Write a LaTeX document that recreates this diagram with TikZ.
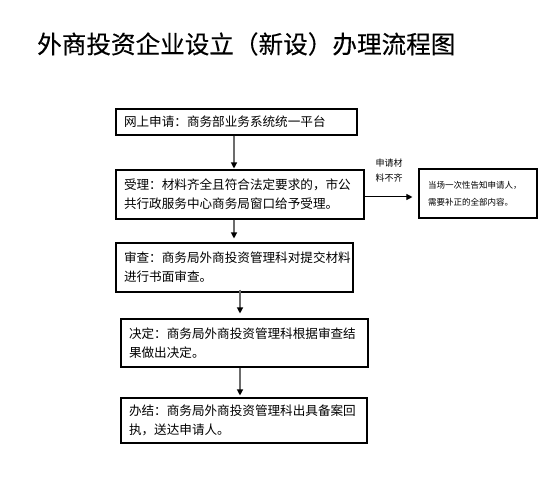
\documentclass[tikz,border=0pt]{standalone}
\usepackage{fontspec}
\setmainfont{Noto Sans CJK SC}
\newfontfamily\titlefont[FakeBold=0.25]{Noto Sans CJK SC}
\usetikzlibrary{arrows.meta}
\tikzset{
  flowbox/.style={draw=black, line width=1.1pt, rectangle, inner xsep=8pt, inner ysep=0pt, align=left, font=\fontsize{12.6}{19}\selectfont},
  sidebox/.style={draw=black, line width=1.1pt, rectangle, inner xsep=9pt, inner ysep=0pt, align=left, font=\fontsize{8.5}{17}\selectfont},
  flowarrow/.style={draw=gray!85!black, line width=1.2pt, -{Triangle[color=black, length=6pt, width=6pt]}},
  sidearrow/.style={draw=black, line width=1pt, -{Triangle[color=black, length=6pt, width=6pt]}},
}
\begin{document}
\begin{tikzpicture}[x=1pt, y=-1pt]
\useasboundingbox[fill=white] (0,0) rectangle (548,478);
\node[anchor=west, inner sep=0pt, font=\titlefont\fontsize{24.6}{28}\selectfont] (title) at (37,44) {外商投资企业设立（新设）办理流程图};

\node[flowbox, minimum width=241pt, minimum height=26pt, text width=225pt] (b1) at (236.5,122) {网上申请：商务部业务系统统一平台};
\node[flowbox, minimum width=248pt, minimum height=49pt, text width=232pt] (b2) at (240,194.5) {受理：材料齐全且符合法定要求的，市公\\共行政服务中心商务局窗口给予受理。};
\node[sidebox, minimum width=118pt, minimum height=49pt, text width=100pt] (b3) at (478,193.5) {当场一次性告知申请人，\\需要补正的全部内容。};
\node[flowbox, minimum width=237pt, minimum height=49pt, text width=221pt] (b4) at (234.5,267.5) {审查：商务局外商投资管理科对提交材料\\进行书面审查。};
\node[flowbox, minimum width=247pt, minimum height=48pt, text width=231pt] (b5) at (244.5,343) {决定：商务局外商投资管理科根据审查结\\果做出决定。};
\node[flowbox, minimum width=246pt, minimum height=45pt, text width=230pt] (b6) at (244,420.5) {办结：商务局外商投资管理科出具备案回\\执，送达申请人。};

\node[align=center, inner sep=0pt, font=\fontsize{9}{15}\selectfont] (lbl) at (389,170.5) {申请材\\料不齐};

\coordinate (ax1) at (234,0);
\coordinate (ax2) at (240,0);
\coordinate (hy) at (0,197);

\draw[flowarrow] (b1.south -| ax1) -- ([yshift=1pt]b2.north -| ax1);
\draw[flowarrow] (b2.south -| ax1) -- ([yshift=4pt]b4.north -| ax1);
\draw[flowarrow] ([yshift=3pt]b4.south -| ax2) -- ([yshift=5pt]b5.north -| ax2);
\draw[flowarrow] (b5.south -| ax2) -- ([yshift=2pt]b6.north -| ax2);
\draw[sidearrow] (b2.east |- hy) -- ([xshift=-6pt]b3.west |- hy);
\end{tikzpicture}
\end{document}
